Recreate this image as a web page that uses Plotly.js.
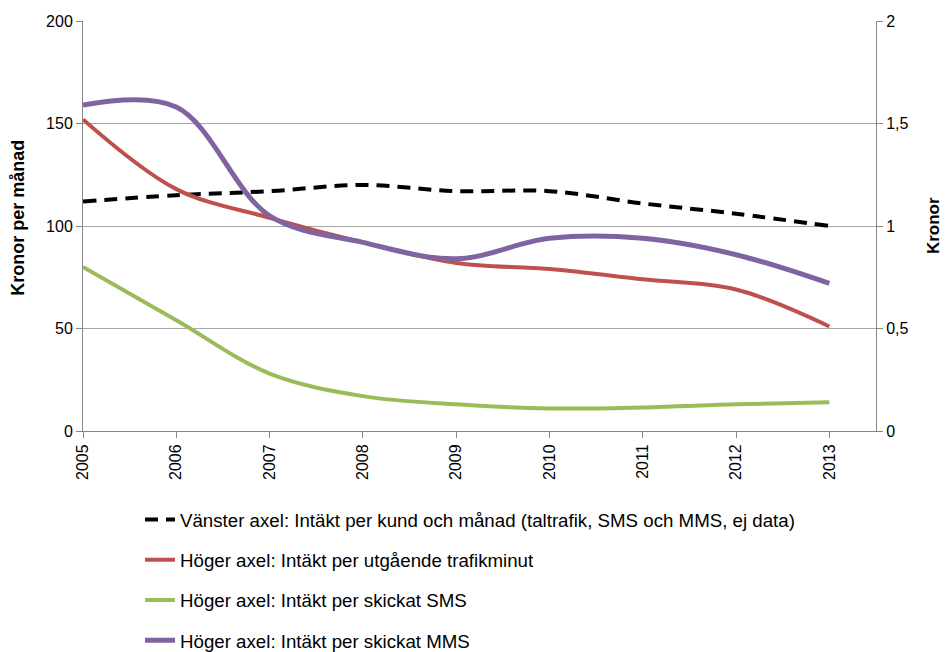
<!DOCTYPE html>
<html><head><meta charset="utf-8">
<script src="https://cdn.plot.ly/plotly-3.0.1.min.js"></script>
<style>body{margin:0;padding:0;background:#fff}#chart{width:946px;height:652px}</style>
</head><body><div id="chart"></div>
<script>
const years = [2005, 2006, 2007, 2008, 2009, 2010, 2011, 2012, 2013];
const perKund = [112, 115, 117, 120, 117, 117, 111, 106, 100];
const perMinut = [1.52, 1.18, 1.04, 0.92, 0.82, 0.79, 0.74, 0.69, 0.51];
const perSMS = [0.80, 0.54, 0.28, 0.17, 0.13, 0.11, 0.115, 0.13, 0.14];
const perMMS = [1.59, 1.58, 1.05, 0.92, 0.84, 0.94, 0.94, 0.86, 0.72];
const names = [
  "Vänster axel: Intäkt per kund och månad (taltrafik, SMS och MMS, ej data)",
  "Höger axel: Intäkt per utgående trafikminut",
  "Höger axel: Intäkt per skickat SMS",
  "Höger axel: Intäkt per skickat MMS"
];
const leftTitle = "Kronor per månad";
const rightTitle = "Kronor";
const font = "Liberation Sans, Arial, sans-serif";
const traces = [
  {x: years, y: perKund, name: names[0], yaxis: 'y', legendgroup: 'a',
   mode: 'lines', line: {color: '#000000', width: 4, dash: '13px,8px', shape: 'spline', smoothing: 1}},
  {x: years, y: perMinut, name: names[1], yaxis: 'y2', legendgroup: 'b',
   mode: 'lines', line: {color: '#c0504d', width: 4, shape: 'spline', smoothing: 1}},
  {x: years, y: perSMS, name: names[2], yaxis: 'y2', legendgroup: 'c',
   mode: 'lines', line: {color: '#9bbb59', width: 4, shape: 'spline', smoothing: 1}},
  {x: years, y: perMMS, name: names[3], yaxis: 'y2', legendgroup: 'd',
   mode: 'lines', line: {color: '#8064a2', width: 5, shape: 'spline', smoothing: 1}}
];
const layout = {
  width: 946, height: 652,
  margin: {l: 83, r: 70, t: 21, b: 221, autoexpand: false},
  paper_bgcolor: '#fff', plot_bgcolor: '#fff',
  font: {family: font, size: 16, color: '#000'},
  showlegend: true,
  legend: {x: 0.148, xref: 'container', xanchor: 'left', y: 0.232, yref: 'container', yanchor: 'top',
           orientation: 'v', font: {family: font, size: 18.7, color: '#000'}, tracegroupgap: 13,
           traceorder: 'grouped', bgcolor: 'rgba(0,0,0,0)', itemwidth: 30},
  xaxis: {range: [2005, 2013.5], tickvals: years, ticktext: years.map(String), tickangle: -90,
          showgrid: false, showline: true, linecolor: '#868686', linewidth: 1,
          ticks: 'outside', ticklen: 6, tickcolor: '#868686', zeroline: false,
          tickfont: {family: font, size: 16}},
  yaxis: {range: [0, 200], tickvals: [0, 50, 100, 150, 200], showgrid: true, gridcolor: '#a6a6a6',
          showline: true, linecolor: '#868686', ticks: 'outside', ticklen: 6, tickcolor: '#868686',
          zeroline: false, tickfont: {family: font, size: 16}},
  yaxis2: {range: [0, 2], overlaying: 'y', side: 'right', tickvals: [0, 0.5, 1, 1.5, 2],
           ticktext: ['0', '0,5', '1', '1,5', '2'], showgrid: false, showline: true,
           linecolor: '#868686', ticks: 'outside', ticklen: 6, tickcolor: '#868686', zeroline: false,
           tickfont: {family: font, size: 16}},
  annotations: [
    {text: '<b>' + leftTitle + '</b>', textangle: -90, xref: 'paper', yref: 'paper',
     x: -0.082, y: 0.52, xanchor: 'center', yanchor: 'middle', showarrow: false,
     font: {family: font, size: 18, color: '#000'}},
    {text: '<b>' + rightTitle + '</b>', textangle: -90, xref: 'paper', yref: 'paper',
     x: 1.072, y: 0.50, xanchor: 'center', yanchor: 'middle', showarrow: false,
     font: {family: font, size: 17, color: '#000'}}
  ]
};
Plotly.newPlot('chart', traces, layout, {displayModeBar: false, staticPlot: true});
</script></body></html>
